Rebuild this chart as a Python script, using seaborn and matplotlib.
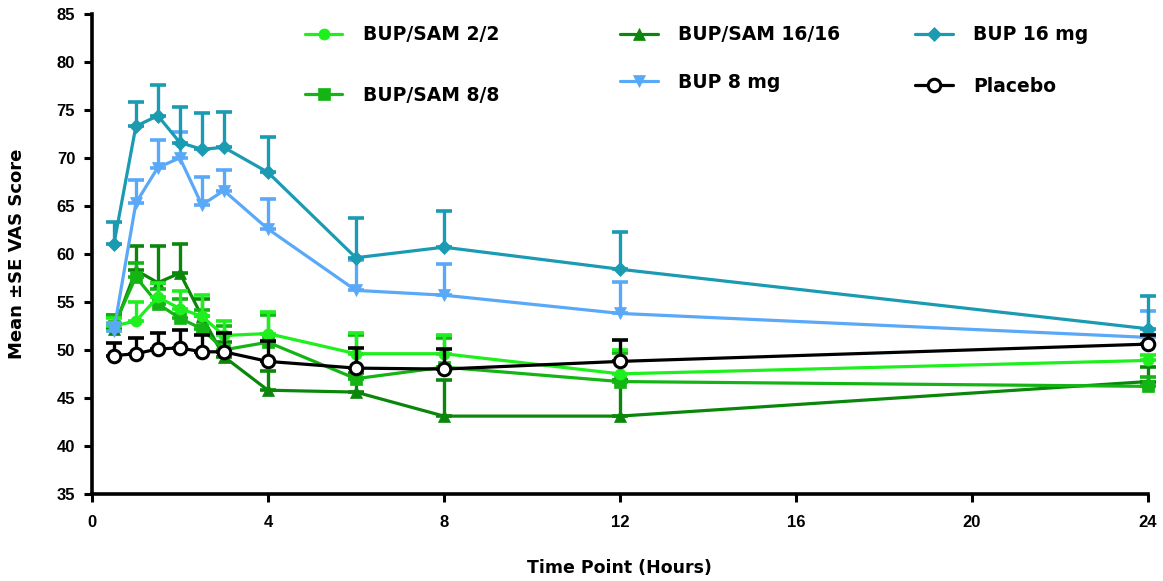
import numpy as np
import pandas as pd
import matplotlib
matplotlib.use("Agg")
import matplotlib.pyplot as plt
import seaborn as sns

# Sampling time points (hours)
hours = [0.5, 1, 1.5, 2, 2.5, 3, 4, 6, 8, 12, 24]

# Mean VAS score per treatment group
bup_sam_2 = [52.5, 53.0, 55.5, 54.3, 53.5, 51.5, 51.7, 49.6, 49.6, 47.5, 48.9]
bup_sam_8 = [52.5, 57.6, 54.8, 53.3, 52.2, 50.0, 50.8, 47.0, 48.2, 46.7, 46.2]
bup_sam_16 = [52.2, 58.3, 57.0, 58.0, 53.5, 49.3, 45.8, 45.6, 43.1, 43.1, 46.7]
bup_8 = [52.0, 65.3, 69.0, 70.0, 65.1, 66.6, 62.6, 56.2, 55.7, 53.8, 51.3]
bup_16 = [61.0, 73.3, 74.4, 71.6, 70.9, 71.1, 68.5, 59.6, 60.7, 58.4, 52.2]
placebo = [49.4, 49.6, 50.1, 50.2, 49.8, 49.8, 48.8, 48.1, 48.0, 48.8, 50.6]

# Standard errors (drawn upward only)
se_bup_sam_2 = [0.8, 2.0, 1.5, 1.8, 2.2, 1.5, 2.2, 2.2, 2.0, 2.5, 0.6]
se_bup_sam_8 = [1.0, 1.5, 1.5, 2.0, 2.0, 2.5, 2.8, 4.5, 3.0, 3.0, 1.0]
se_bup_sam_16 = [1.4, 2.5, 3.8, 3.0, 1.8, 1.5, 2.0, 2.0, 3.8, 3.8, 1.5]
se_bup_8 = [0.8, 2.4, 2.9, 2.7, 2.9, 2.1, 3.1, 3.2, 3.2, 3.3, 2.7]
se_bup_16 = [2.3, 2.5, 3.2, 3.7, 3.8, 3.7, 3.7, 4.1, 3.8, 3.9, 3.4]
se_placebo = [1.3, 1.6, 1.7, 1.9, 1.8, 2.0, 2.1, 2.1, 2.1, 2.2, 1.0]

x_ticks = [0, 4, 8, 12, 16, 20, 24]
y_ticks = [35, 40, 45, 50, 55, 60, 65, 70, 75, 80, 85]

groups = [
    ("BUP/SAM 16/16", bup_sam_16, se_bup_sam_16, "#0A870A", "^"),
    ("BUP/SAM 8/8", bup_sam_8, se_bup_sam_8, "#14B414", "s"),
    ("BUP/SAM 2/2", bup_sam_2, se_bup_sam_2, "#1EF01E", "o"),
    ("BUP 8 mg", bup_8, se_bup_8, "#5AA8F8", "v"),
    ("BUP 16 mg", bup_16, se_bup_16, "#1A9BB2", "D"),
    ("Placebo", placebo, se_placebo, "#000000", "o"),
]

sns.set_theme(style="ticks")
plt.rcParams["font.family"] = ["Liberation Sans", "DejaVu Sans"]
plt.rcParams["text.color"] = "black"
plt.rcParams["axes.labelcolor"] = "black"
plt.rcParams["xtick.color"] = "black"
plt.rcParams["ytick.color"] = "black"

W, H = 1163, 581
fig = plt.figure(figsize=(W / 100, H / 100), dpi=100)
ax = fig.add_axes([0.079, 0.150, 0.908, 0.826])

handles = {}
for z, (name, vals, se, color, marker) in enumerate(groups):
    df = pd.DataFrame({"hours": hours, "score": vals})
    is_placebo = name == "Placebo"
    ax.errorbar(hours, vals, yerr=[np.zeros(len(se)), se], fmt="none",
                ecolor=color, elinewidth=2.4, capsize=6, capthick=2.6,
                zorder=2 + z, clip_on=False)
    sns.lineplot(data=df, x="hours", y="score", ax=ax, color=color,
                 linewidth=2.3, marker=marker,
                 markersize=9 if is_placebo else (7 if marker == "D" else 8),
                 markerfacecolor="white" if is_placebo else color,
                 markeredgecolor=color,
                 markeredgewidth=2.2 if is_placebo else 0.5,
                 zorder=3 + z, clip_on=False, legend=False)
    handles[name] = ax.get_lines()[-1]

ax.set_xlim(0, 24)
ax.set_ylim(35, 85)
ax.set_xticks(x_ticks)
ax.set_yticks(y_ticks)
ax.set_xticklabels([str(t) for t in x_ticks], fontsize=12, fontweight="bold")
ax.set_yticklabels([str(t) for t in y_ticks], fontsize=12, fontweight="bold")
ax.tick_params(axis="both", direction="out", length=6, width=2.2, color="black",
               labelcolor="black")
ax.tick_params(axis="x", pad=9)
ax.tick_params(axis="y", pad=6)
sns.despine(ax=ax)
for side in ("left", "bottom"):
    ax.spines[side].set_linewidth(2.6)
    ax.spines[side].set_color("black")

label_font = {"family": "DejaVu Sans", "weight": "bold"}
ax.set_xlabel("Time Point (Hours)", fontsize=12.5, fontdict=label_font)
ax.xaxis.set_label_coords(0.5, -0.135)
ax.set_ylabel("Mean \u00b1SE VAS Score", fontsize=13, fontdict=label_font)
ax.yaxis.set_label_coords(-0.062, 0.5)

# One legend entry per slot: (name, handle start x, row centre y) in pixels
legend_slots = [
    ("BUP/SAM 2/2", 305, 35),
    ("BUP/SAM 8/8", 305, 95),
    ("BUP/SAM 16/16", 620, 35),
    ("BUP 8 mg", 620, 82),
    ("BUP 16 mg", 915, 35),
    ("Placebo", 915, 86),
]
for name, px, py in legend_slots:
    fig.legend([handles[name]], [name], loc="center left",
               bbox_to_anchor=(px / W, 1 - py / H), frameon=False,
               borderpad=0, borderaxespad=0,
               prop={"family": "DejaVu Sans", "weight": "bold", "size": 13.5},
               handlelength=2.0, handletextpad=1.1)

fig.savefig("out.png", dpi=100)
